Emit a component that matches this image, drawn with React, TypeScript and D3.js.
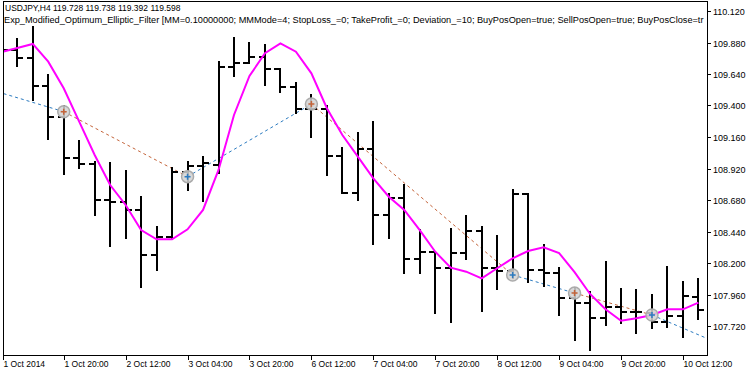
import React, { useEffect, useRef } from "react";
import * as d3 from "d3";

var width = 750;
var height = 375;
// plot frame (price scale on the right, time scale below)
var left = 3;
var right = 707;
var top = 1;
var bottom = 355;
var barStep = 15.48;
var tickLen = 6;

// H4 bars, index 0 = 1 Oct 04:00
const barOpen = [
  109.84, 109.823, 109.764, 109.551, 109.315, 108.998, 108.952, 108.68, 108.663, 108.604,
  108.261, 108.4, 108.896, 108.939, 108.947, 109.696, 109.722, 109.767, 109.676, 109.543,
  109.371, 109.371, 109.015, 108.736, 109.066, 108.566, 108.693, 108.231, 108.286, 108.164,
  108.279, 108.446, 108.164, 108.141, 108.726, 108.147, 108.126, 107.931, 107.898, 107.779,
  107.867, 107.824, 107.817, 107.753, 107.799, 107.943,
];
const barHigh = [
  109.95, 109.907, 109.996, 109.632, 109.396, 109.132, 108.972, 108.964, 108.903, 108.701,
  108.477, 108.922, 108.972, 109.01, 109.734, 109.912, 109.874, 109.861, 109.676, 109.569,
  109.48, 109.396, 109.074, 109.188, 109.274, 108.726, 108.794, 108.451, 108.286, 108.457,
  108.558, 108.477, 108.408, 108.756, 108.726, 108.337, 108.16, 108.007, 107.981, 108.205,
  108.002, 107.994, 107.956, 108.172, 108.058, 108.076,
];
const barLow = [
  109.78, 109.703, 109.442, 109.142, 108.878, 108.922, 108.566, 108.33, 108.393, 108.019,
  108.147, 108.381, 108.756, 108.675, 108.883, 109.625, 109.722, 109.556, 109.505, 109.341,
  109.162, 108.871, 108.731, 108.68, 108.345, 108.388, 108.122, 108.126, 107.821, 107.753,
  108.228, 107.837, 108.0, 108.083, 108.058, 108.025, 107.804, 107.613, 107.537, 107.728,
  107.741, 107.664, 107.703, 107.715, 107.634, 107.773,
];
const barClose = [
  109.823, 109.764, 109.551, 109.315, 108.998, 108.952, 108.68, 108.663, 108.604, 108.261,
  108.4, 108.896, 108.939, 108.96, 109.696, 109.722, 109.767, 109.676, 109.543, 109.371,
  109.371, 109.015, 108.736, 109.066, 108.566, 108.693, 108.231, 108.286, 108.164, 108.279,
  108.446, 108.164, 108.141, 108.726, 108.147, 108.126, 107.931, 107.898, 107.779, 107.867,
  107.824, 107.824, 107.753, 107.799, 107.949, 107.842,
];

// Modified Optimum Elliptic Filter line
const filterValues = [
  109.808, 109.838, 109.869, 109.734, 109.531, 109.277, 109.023, 108.794, 108.642, 108.451,
  108.381, 108.381, 108.457, 108.604, 108.909, 109.328, 109.625, 109.798, 109.874, 109.81,
  109.645, 109.379, 109.175, 109.01, 108.845, 108.705, 108.604, 108.451, 108.286, 108.164,
  108.134, 108.083, 108.16, 108.236, 108.291, 108.32, 108.276, 108.131, 107.964, 107.847,
  107.76, 107.779, 107.804, 107.847, 107.847, 107.898,
];

// deals (first and last points continue off screen)
const dealBars = [-1, 4, 12, 20, 33, 37, 42, 46];
const dealPrices = [109.53, 109.353, 108.858, 109.411, 108.109, 107.971, 107.804, 107.603];
const dealTypes = ["buy", "sell", "buy", "sell", "buy", "sell", "buy", "sell"];

const priceTicks = [110.12, 109.88, 109.64, 109.4, 109.16, 108.92, 108.68, 108.44, 108.2, 107.96, 107.72];
const timeLabels = [
  "1 Oct 2014", "1 Oct 20:00", "2 Oct 12:00", "3 Oct 04:00", "3 Oct 20:00", "6 Oct 12:00",
  "7 Oct 04:00", "7 Oct 20:00", "8 Oct 12:00", "9 Oct 04:00", "9 Oct 20:00", "10 Oct 12:00",
];
const timeLabelBars = [0, 4, 8, 12, 16, 20, 24, 28, 32, 36, 40, 44];

const titleLine1 = "USDJPY,H4  119.728 119.738 119.392 119.598";
// the chart window cuts this line off at the price scale
const titleLine2 =
  "Exp_Modified_Optimum_Elliptic_Filter [MM=0.10000000; MMMode=4; StopLoss_=0; TakeProfit_=0; Deviation_=10; BuyPosOpen=true; SellPosOpen=true; BuyPosClose=tr";

const font = "'Liberation Sans', Arial, sans-serif";
const buyColor = "#2c7bc0";
const sellColor = "#c4643a";

export default function App() {
  const ref = useRef<SVGSVGElement>(null);

  useEffect(() => {
    const svg = d3.select(ref.current);
    svg.selectAll("*").remove();

    const x = d3.scaleLinear().domain([0, 45]).range([1.8, 1.8 + 45 * barStep]);
    const y = d3.scaleLinear().domain([107.72, 110.12]).range([326, 11]);

    svg.append("rect").attr("width", width).attr("height", height).attr("fill", "#fff");

    svg.append("defs").append("clipPath").attr("id", "plotClip")
      .append("rect").attr("x", left).attr("y", top).attr("width", right - left).attr("height", bottom - top);

    const plot = svg.append("g").attr("clip-path", "url(#plotClip)");

    /* deal lines */
    for (let k = 0; k < dealBars.length - 1; k++) {
      plot.append("line")
        .attr("x1", x(dealBars[k])).attr("y1", y(dealPrices[k]))
        .attr("x2", x(dealBars[k + 1])).attr("y2", y(dealPrices[k + 1]))
        .attr("stroke", dealTypes[k] == "buy" ? buyColor : sellColor)
        .attr("stroke-width", 1)
        .attr("stroke-dasharray", "3,3");
    }

    /* bars */
    const bars = plot.append("g").attr("stroke", "#000").attr("stroke-width", 2);
    barOpen.forEach((o, i) => {
      const bx = Math.round(x(i));
      bars.append("line").attr("x1", bx).attr("x2", bx)
        .attr("y1", Math.round(y(barHigh[i])) - 1).attr("y2", Math.round(y(barLow[i])) + 1);
      bars.append("line").attr("x1", bx - tickLen).attr("x2", bx)
        .attr("y1", Math.round(y(o))).attr("y2", Math.round(y(o)));
      bars.append("line").attr("x1", bx).attr("x2", bx + tickLen)
        .attr("y1", Math.round(y(barClose[i]))).attr("y2", Math.round(y(barClose[i])));
    });

    /* filter line */
    const line = d3.line<number>().x((d, i) => x(i)).y(d => y(d));
    plot.append("path")
      .attr("d", line(filterValues))
      .attr("fill", "none")
      .attr("stroke", "#ff00ff")
      .attr("stroke-width", 2);

    /* deal markers */
    for (let k = 1; k < dealBars.length - 1; k++) {
      const cx = x(dealBars[k]);
      const cy = y(dealPrices[k]);
      const c = dealTypes[k] == "buy" ? buyColor : sellColor;
      plot.append("circle").attr("cx", cx).attr("cy", cy).attr("r", 6)
        .attr("fill", "#d2d2d2").attr("fill-opacity", 0.85)
        .attr("stroke", "#ababab").attr("stroke-width", 1.5);
      plot.append("path")
        .attr("d", `M${cx - 3},${cy}H${cx + 3}M${cx},${cy - 3}V${cy + 3}`)
        .attr("stroke", c).attr("stroke-width", 1.5);
    }

    /* titles */
    plot.append("text").attr("x", 5).attr("y", 11)
      .style("font-family", font).style("font-size", "8.5px").text(titleLine1);
    plot.append("text").attr("x", 4).attr("y", 23)
      .style("font-family", font).style("font-size", "9.2px").text(titleLine2);

    /* frame */
    svg.append("rect")
      .attr("x", left + 0.5).attr("y", top + 0.5)
      .attr("width", right - left).attr("height", bottom - top)
      .attr("fill", "none").attr("stroke", "#000").attr("stroke-width", 1);

    /* price scale */
    const yAxis = svg.append("g");
    priceTicks.forEach(p => {
      const ty = Math.round(y(p)) + 0.5;
      yAxis.append("line").attr("x1", right).attr("x2", right + 4).attr("y1", ty).attr("y2", ty)
        .attr("stroke", "#000");
      yAxis.append("text").attr("x", right + 6).attr("y", ty).attr("dy", "0.35em")
        .style("font-family", font).style("font-size", "9px").text(p.toFixed(3));
    });

    /* time scale */
    const xAxis = svg.append("g");
    timeLabels.forEach((t, k) => {
      const tx = Math.max(left, Math.round(x(timeLabelBars[k]))) + 0.5;
      xAxis.append("line").attr("x1", tx).attr("x2", tx).attr("y1", bottom).attr("y2", bottom + 5)
        .attr("stroke", "#000");
      xAxis.append("text").attr("x", tx).attr("y", bottom + 12)
        .style("font-family", font).style("font-size", "8.5px").text(t);
    });
  }, []);

  return (
    <svg ref={ref} width={width} height={height}
      style={{ position: "absolute", left: 0, top: 0, display: "block" }} />
  );
}
